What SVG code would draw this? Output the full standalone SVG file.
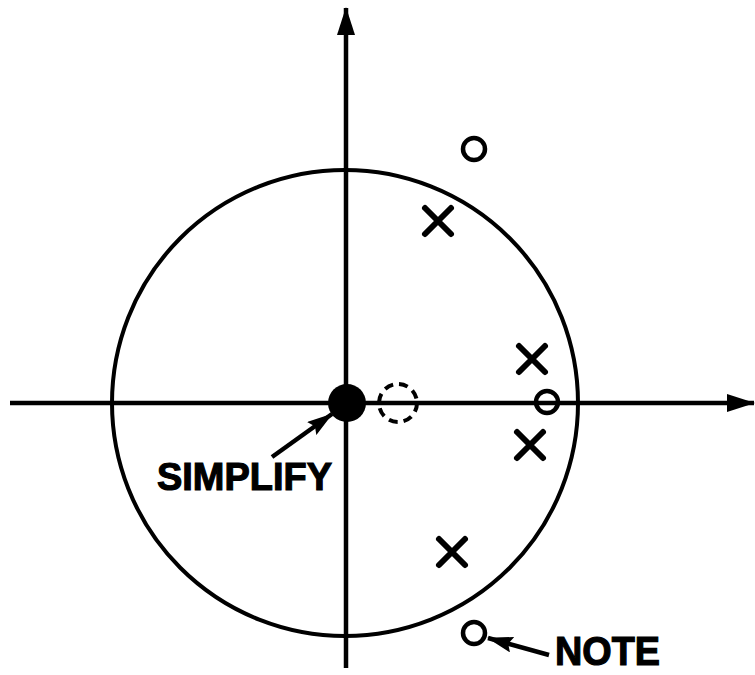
<svg xmlns="http://www.w3.org/2000/svg" width="755" height="675" viewBox="0 0 755 675">
<style>
.ln{stroke:#000;stroke-width:4.5;fill:none}
.x{stroke:#000;stroke-width:6;stroke-linecap:round;fill:none}
.o{stroke:#000;stroke-width:4.5;fill:none}
.lbl{font-family:"Liberation Sans",Arial,sans-serif;font-weight:bold;fill:#000;stroke:#000;stroke-width:1.2}
</style>
<defs>
<marker id="ah" viewBox="0 0 28 18" refX="27" refY="9" markerWidth="28" markerHeight="18" orient="auto" markerUnits="userSpaceOnUse">
<path d="M0,0 L28,9 L0,18 Z" fill="#000"/>
</marker>
<marker id="ah2" viewBox="0 0 26 16" refX="25" refY="8" markerWidth="26" markerHeight="16" orient="auto" markerUnits="userSpaceOnUse">
<path d="M0,0 L26,8 L0,16 L4,8 Z" fill="#000"/>
</marker>
</defs>
<rect width="755" height="675" fill="#fff"/>
<g id="connectors">
<line class="ln" x1="10" y1="403" x2="754" y2="403" marker-end="url(#ah)"/>
<line class="ln" x1="346" y1="668" x2="346" y2="8" marker-end="url(#ah)"/>
<line class="ln" x1="272" y1="457" x2="332" y2="414" marker-end="url(#ah2)"/>
<line class="ln" x1="549" y1="655" x2="488" y2="638" marker-end="url(#ah2)"/>
</g>
<g id="unit-circle"><circle cx="345" cy="403" r="233" stroke="#000" stroke-width="4" fill="none"/></g>
<g id="origin-dot"><circle cx="347" cy="403" r="19" fill="#000"/></g>
<g id="dashed-zero"><circle cx="398" cy="403" r="19" fill="none" stroke="#000" stroke-width="4" stroke-dasharray="9,6"/></g>
<g id="zero-axis"><circle class="o" cx="547" cy="402" r="11"/></g>
<g id="zero-top"><circle class="o" cx="474" cy="149" r="11"/></g>
<g id="zero-bottom"><circle class="o" cx="474" cy="633" r="11"/></g>
<g id="pole-1"><path class="x" d="M425,208 L451,234 M451,208 L425,234"/></g>
<g id="pole-2"><path class="x" d="M519,346 L545,372 M545,346 L519,372"/></g>
<g id="pole-3"><path class="x" d="M517,432 L543,458 M543,432 L517,458"/></g>
<g id="pole-4"><path class="x" d="M439,539 L465,565 M465,539 L439,565"/></g>
<g id="label-simplify"><text class="lbl" x="157" y="490" font-size="39" textLength="175" lengthAdjust="spacingAndGlyphs">SIMPLIFY</text></g>
<g id="label-note"><text class="lbl" x="555" y="665" font-size="41" textLength="105" lengthAdjust="spacingAndGlyphs">NOTE</text></g>
</svg>
